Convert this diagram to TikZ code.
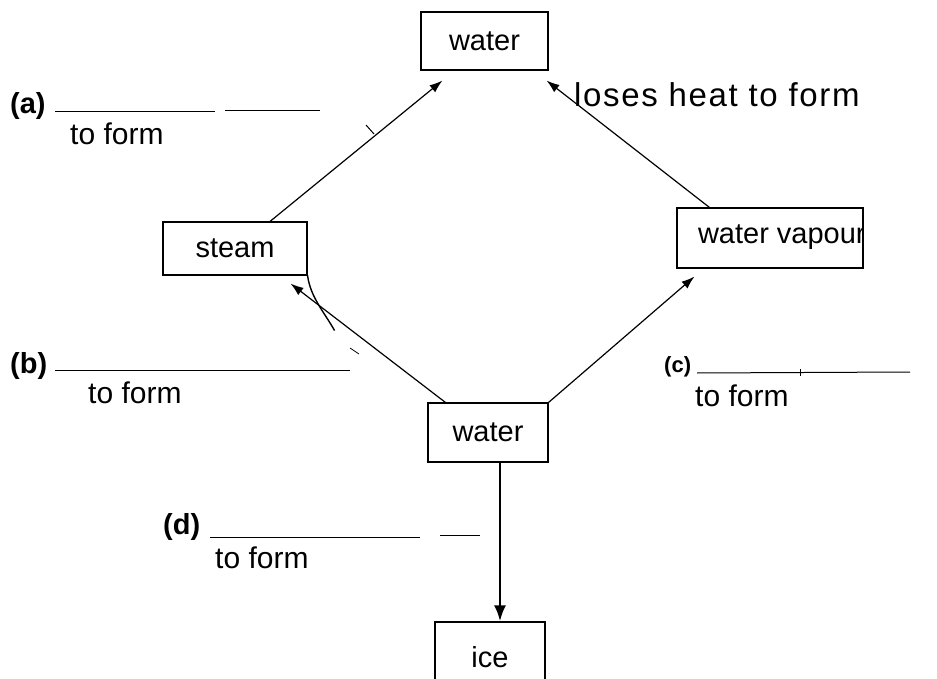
\documentclass[tikz,border=0pt]{standalone}
\usepackage{fontspec}
\setmainfont{Liberation Sans}
\usetikzlibrary{arrows.meta,calc}
\tikzset{
  stage/.style={draw=black, line width=1.1pt, inner sep=0pt, font=\fontsize{29}{32}\selectfont},
  flow/.style={draw=black, line width=1.2pt, -{Latex[length=13pt,width=9pt]}},
  blank/.style={draw=black, line width=1pt},
  lbl/.style={font=\fontsize{30}{33}\selectfont, inner sep=0pt, anchor=west},
  tag/.style={font=\bfseries\fontsize{29}{32}\selectfont, inner sep=0pt, anchor=west}
}
\begin{document}
\begin{tikzpicture}[x=1pt,y=-1pt]
\useasboundingbox (0,0) rectangle (937,679);
\fill[white] (0,0) rectangle (937,679);
\clip (0,0) rectangle (937,679);

% boxes
\node[stage, minimum width=127pt, minimum height=58pt] (topw) at (484.5,41) {water};
\node[stage, minimum width=144pt, minimum height=53pt] (steam) at (235,248.5) {steam};
\node[stage, minimum width=186pt, minimum height=60pt] (vap) at (770,238) {};
\node[stage, minimum width=120pt, minimum height=59pt] (botw) at (488,432.5) {water};
\node[stage, minimum width=110pt, minimum height=70pt] (ice) at (490,657) {ice};

% the last letter of the vapour label runs off its box
\begin{scope}
  \clip (vap.north west) rectangle (vap.south east);
  \node[stage, draw=none, anchor=west] (vaptext) at ($(vap.west)+(21,-1)$) {water vapour};
\end{scope}

% connectors
\draw[flow] ($(steam.north)+(35,0)$) -- ($(topw.south west)+(22,10)$);
\draw[flow] ($(vap.north west)+(33,0)$) -- ($(topw.south east)+(-2,10)$);
\draw[flow] ($(botw.north west)+(18,0)$) -- ($(steam.south east)+(-17,8)$);
\draw[flow] (botw.north east) -- ($(vap.south west)+(18,8)$);
\draw[flow, line width=2.8pt, -{Latex[length=16pt,width=12pt]}] ($(botw.south)+(12,0)$) -- ($(ice.north)+(10,0)$);

% pencil marks
\draw[line width=1.4pt] (steam.south east) .. controls +(3,22) and +(-10,-18) .. ++(27,55);
\draw[line width=1pt] (366,125) -- (374,134);
\draw[line width=0.8pt] (350,348) -- (359,354);

% (a)
\node[tag] (ta) at (10,106) {(a)};
\draw[blank] (55,112) -- (215,112) (225,111) -- (320,111);
\node[lbl] (fa) at (70,134) {to form};
% (b)
\node[tag] (tb) at (10,366) {(b)};
\draw[blank] (55,370) -- (350,370);
\node[lbl] (fb) at (88,393) {to form};
% (c)
\node[tag, font=\bfseries\fontsize{22}{25}\selectfont] (tc) at (664,367) {(c)};
\draw[blank] (697,373) -- (910,372);
\draw[line width=0.8pt] (800,369) -- (800,376);
\node[lbl] (fc) at (695,396) {to form};
% (d)
\node[tag] (td) at (163,527) {(d)};
\draw[blank] (210,537) -- (420,537) (440,535) -- (480,535);
\node[lbl] (fd) at (215,558) {to form};
% loses heat
\node[lbl, font=\fontsize{33}{36}\selectfont\addfontfeatures{LetterSpace=5}] (lh) at (574,95) {loses heat to form};
\end{tikzpicture}
\end{document}
